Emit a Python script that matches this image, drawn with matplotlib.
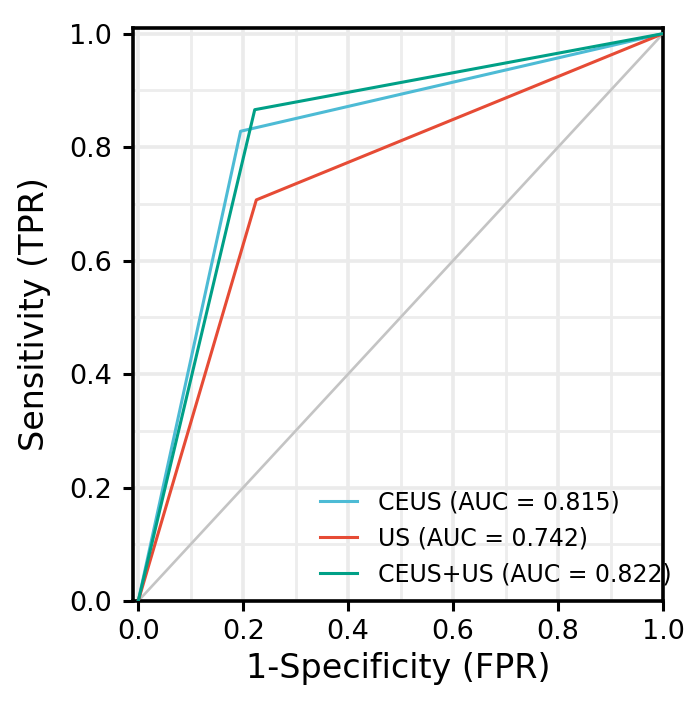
import matplotlib
matplotlib.use("Agg")
import matplotlib.pyplot as plt
from matplotlib.ticker import MultipleLocator

labels = ["CEUS (AUC = 0.815)", "US (AUC = 0.742)", "CEUS+US (AUC = 0.822)"]
fpr_ceus = [0.0, 0.195, 1.0]
tpr_ceus = [0.0, 0.828, 1.0]
fpr_us = [0.0, 0.225, 1.0]
tpr_us = [0.0, 0.707, 1.0]
fpr_comb = [0.0, 0.222, 1.0]
tpr_comb = [0.0, 0.866, 1.0]
colors = ["#4DBBD5", "#E64B35", "#00A087"]

fig = plt.figure(figsize=(7.0, 7.09), dpi=100)
ax = fig.add_axes([133/700, 108/709, 530/700, 573/709])

ax.plot([0, 1], [0, 1], color="#C4C4C4", lw=1.9, zorder=2)
ax.plot(fpr_ceus, tpr_ceus, color=colors[0], lw=2.2, label=labels[0], zorder=3)
ax.plot(fpr_us, tpr_us, color=colors[1], lw=2.2, label=labels[1], zorder=3)
ax.plot(fpr_comb, tpr_comb, color=colors[2], lw=2.2, label=labels[2], zorder=4)

ax.set_xlim(-0.01, 1.0)
ax.set_ylim(0.0, 1.01)
ax.xaxis.set_major_locator(MultipleLocator(0.2))
ax.yaxis.set_major_locator(MultipleLocator(0.2))
ax.xaxis.set_minor_locator(MultipleLocator(0.1))
ax.yaxis.set_minor_locator(MultipleLocator(0.1))
ax.grid(True, which="major", color="#EBEBEB", lw=2.6, zorder=0)
ax.grid(True, which="minor", color="#EDEDED", lw=2.0, zorder=0)
ax.set_axisbelow(True)
ax.tick_params(which="major", labelsize=19.5, length=7, width=2.2, color="black")
ax.tick_params(axis="y", pad=8)
ax.tick_params(axis="x", pad=6)
ax.tick_params(which="minor", length=0)
for s in ax.spines.values():
    s.set_linewidth(2.6)
ax.set_xlabel("1-Specificity (FPR)", fontsize=24, labelpad=5)
ax.set_ylabel("Sensitivity (TPR)", fontsize=24, labelpad=13)

ax.legend(loc="lower left", frameon=False, fontsize=17, bbox_to_anchor=(0.353, 0.026),
          borderaxespad=0, borderpad=0,
          handlelength=1.57, handletextpad=0.9, labelspacing=0.5)

fig.savefig("out.png", dpi=100)
